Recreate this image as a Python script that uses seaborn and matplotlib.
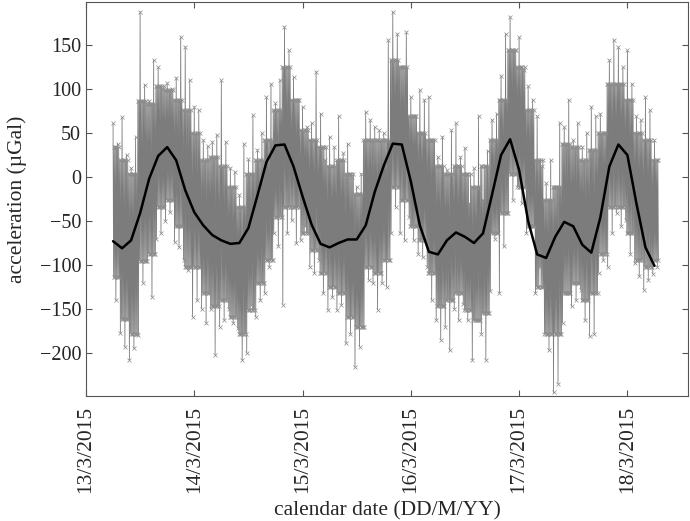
import pandas as pd
import matplotlib
matplotlib.use("Agg")
import matplotlib.pyplot as plt
import matplotlib.dates as mdates
import seaborn as sns

start = pd.Timestamp("2015-03-13 06:00")

# raw gravity record: highest and lowest reading in each hour (µGal)
hi = [61, 38, 68, 25, 10, 45, 188, 105, 87, 133,
      125, 100, 107, 100, 113, 159, 148, 110, 80, 76,
      42, 35, 40, 48, 110, 40, 10, 6, -20, 38,
      20, 70, 31, 50, 91, 106, 84, 110, 171, 144,
      114, 88, 80, 57, 61, 120, 72, 19, 46, 34,
      69, 27, 38, 0, -11, 4, 74, 65, 57, 53,
      50, 156, 188, 163, 125, 165, 91, 69, 99, 88,
      91, 42, 23, 46, 8, 53, 61, 23, 33, -30,
      10, 69, -26, 30, 65, 72, 115, 163, 182, 144,
      159, 122, 103, 88, 69, 12, -7, 19, -11, 61,
      57, 88, 42, 61, 34, 50, 80, 69, 72, 50,
      133, 156, 148, 125, 144, 106, 69, 65, 91, 76,
      42]
lo = [-140, -177, -193, -208, -195, -180, -120, -95, -136, -70,
      -64, -50, -40, -74, -80, -94, -106, -159, -140, -150,
      -166, -150, -202, -170, -163, -150, -166, -172, -208, -200,
      -145, -159, -140, -132, -102, -64, -79, -145, -64, -49,
      -75, -72, -56, -102, -109, -94, -132, -151, -136, -151,
      -145, -189, -178, -216, -193, -170, -117, -121, -151, -121,
      -125, -64, -34, -64, -72, -45, -72, -87, -91, -102,
      -140, -163, -185, -170, -197, -150, -163, -144, -163, -208,
      -163, -178, -208, -130, -70, -132, -79, -41, -26, -11,
      -30, -64, -56, -132, -102, -178, -197, -245, -235, -166,
      -132, -147, -140, -128, -163, -181, -178, -109, -94, -102,
      -64, -41, -56, -49, -87, -98, -113, -128, -117, -110,
      -102]

# dense part of the record, upper and lower edge every 2 hours (µGal)
core_hi = [34, 19, 4, 87, 83, 103, 99, 88, 76, 50,
           19, 23, 12, -11, -34, 4, 19, 42, 76, 125,
           88, 53, 42, 34, 12, 19, 4, -19, 42, 42,
           42, 133, 125, 69, 50, 42, 12, 4, 12, 4,
           -11, 12, 42, 88, 144, 125, 76, 19, -26, -11,
           38, 34, 19, 31, 50, 106, 106, 88, 50, 42,
           19]
core_lo = [-114, -162, -178, -95, -87, -34, -26, -56, -102, -102,
           -132, -147, -140, -159, -178, -151, -121, -94, -45, -34,
           -34, -64, -83, -109, -125, -132, -159, -170, -102, -109,
           -94, -11, -26, -56, -72, -109, -147, -140, -132, -151,
           -163, -155, -64, -41, 4, -11, -56, -125, -178, -178,
           -132, -121, -140, -132, -87, -34, -34, -64, -94, -102,
           -94]

# smoothed signal (µGal), every 2 hours
trend = [-73, -81, -72, -41, -2, 24, 34, 19, -15, -40,
         -55, -66, -72, -76, -75, -58, -21, 17, 36, 37,
         12, -22, -54, -76, -80, -75, -71, -71, -55, -17,
         13, 38, 37, -5, -55, -85, -88, -72, -63, -68,
         -75, -64, -20, 25, 43, 8, -50, -88, -92, -68,
         -51, -56, -77, -86, -46, 12, 37, 25, -30, -80,
         -101]

# one hour of record drawn as eight readings, 7.5 min apart;
# the second half of an odd hour uses the edges of the next 2-hour block
rows = []
last = len(core_hi) - 1
for k, t in enumerate(pd.date_range(start, periods=len(hi), freq="h")):
    a = k // 2
    b = min((k + 1) // 2, last)
    seq = [hi[k], core_lo[a], core_hi[a], core_lo[a],
           core_hi[b], lo[k], core_hi[b], core_lo[b]]
    for m, v in enumerate(seq):
        rows.append((t + pd.Timedelta(seconds=450 * m), v))
raw = pd.DataFrame(rows, columns=["time", "acc"])
smooth = pd.DataFrame({"time": pd.date_range(start, periods=len(trend), freq="2h"),
                       "acc": trend})

sns.set_style("ticks")
plt.rcParams["font.family"] = ["Liberation Serif", "DejaVu Serif"]

fig = plt.figure(figsize=(6.9, 5.21), dpi=100)
ax = fig.add_axes([0.1246, 0.24, 0.8724, 0.756])

grey = "#7c7c7c"
sns.lineplot(data=raw, x="time", y="acc", ax=ax, estimator=None, sort=False,
             color=grey, lw=0.6, marker="x", markersize=2.5,
             markeredgecolor="#8c8c8c", markeredgewidth=0.5)
sns.lineplot(data=smooth, x="time", y="acc", ax=ax, estimator=None,
             color="black", lw=1.8)

ax.set_xlim(pd.Timestamp("2015-03-13 00:00"), pd.Timestamp("2015-03-18 13:25"))
ax.set_ylim(-249, 199)
ax.set_yticks(range(-200, 151, 50))
ax.xaxis.set_major_locator(mdates.DayLocator())
ax.xaxis.set_major_formatter(mdates.DateFormatter("%-d/%-m/%Y"))
ax.tick_params(direction="in", top=True, right=True, length=4,
               labelsize=14.5, color="#555555", width=0.8)
ax.tick_params(axis="x", labelrotation=90, labelsize=15.5, pad=7)
for s in ax.spines.values():
    s.set_color("#555555")
    s.set_linewidth(0.8)

ax.set_xlabel("calendar date (DD/M/YY)", fontsize=15.5, labelpad=6)
ax.set_ylabel("acceleration (µGal)", fontsize=15.5, labelpad=9)

fig.savefig("out.png", dpi=100)
